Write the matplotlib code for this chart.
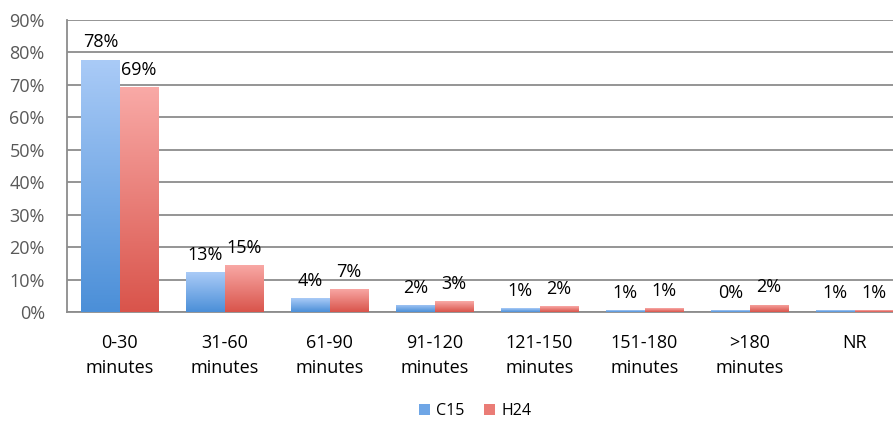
import matplotlib.pyplot as plt
import numpy as np
from matplotlib.colors import LinearSegmentedColormap
from matplotlib.patches import Patch

plt.rcParams['font.family'] = ['Open Sans', 'DejaVu Sans']

# donnees
categories = ['0-30\nminutes', '31-60\nminutes', '61-90\nminutes', '91-120\nminutes',
              '121-150\nminutes', '151-180\nminutes', '>180\nminutes', 'NR']
c15 = [77.8, 12.3, 4.3, 2.2, 1.2, 0.5, 0.5, 0.5]
h24 = [69.4, 14.5, 7.1, 3.3, 1.8, 1.1, 2.3, 0.5]
c15_labels = ['78%', '13%', '4%', '2%', '1%', '1%', '0%', '1%']
h24_labels = ['69%', '15%', '7%', '3%', '2%', '1%', '2%', '1%']
yticks = [0, 10, 20, 30, 40, 50, 60, 70, 80, 90]

blue_cmap = LinearSegmentedColormap.from_list('b', ['#4b8fd8', '#aacbf7'])
red_cmap = LinearSegmentedColormap.from_list('r', ['#d9544b', '#f9aaa7'])

fig = plt.figure(figsize=(8.93, 4.21), dpi=100)
ax = fig.add_axes([67/893, 109/421, 840/893, 292/421])

x = np.arange(len(categories))
w = 0.365
grad = np.linspace(0, 1, 256).reshape(-1, 1)


def gradient_bars(xs, vals, cmap):
    bars = ax.bar(xs, vals, w, color='none', edgecolor='none', zorder=3)
    for b in bars:
        x0, y0 = b.get_x(), b.get_y()
        x1, y1 = x0 + b.get_width(), y0 + b.get_height()
        im = ax.imshow(grad, cmap=cmap, origin='lower', aspect='auto',
                       extent=[x0, x1, y0, y1], zorder=3)
        im.set_clip_path(b)
    return bars


b1 = gradient_bars(x - w/2, c15, blue_cmap)
b2 = gradient_bars(x + w/2, h24, red_cmap)

for xs, vals, labs in [(x - w/2, c15, c15_labels), (x + w/2, h24, h24_labels)]:
    for xi, v, lab in zip(xs, vals, labs):
        ax.annotate(lab, (xi, v), xytext=(0, 6), textcoords='offset points',
                    ha='center', va='bottom', fontsize=13, color='black')

ax.set_xlim(-0.5, len(categories) - 0.5)
ax.set_ylim(0, 90)
ax.set_yticks(yticks)
ax.set_yticklabels([f'{t}%' for t in yticks], fontsize=13, color='#595959')
ax.set_xticks(x)
ax.set_xticklabels(categories, fontsize=13, linespacing=1.45)
ax.tick_params(axis='x', length=0, pad=16)
ax.tick_params(axis='y', length=0, pad=16)
ax.yaxis.grid(True, color='#8c8c8c', linewidth=1.3, zorder=0)
ax.set_axisbelow(True)
for s in ['top', 'right']:
    ax.spines[s].set_visible(False)
for s in ['left', 'bottom']:
    ax.spines[s].set_color('#8c8c8c')
    ax.spines[s].set_linewidth(1.3)

handles = [Patch(facecolor='#6fa6e6'), Patch(facecolor='#ea7c76')]
fig.legend(handles, ['C15', 'H24'], loc='center', bbox_to_anchor=(475/893, 1 - 411/421),
           ncol=2, frameon=False, fontsize=11.5, handlelength=0.7, handleheight=0.7,
           handletextpad=0.4, columnspacing=1.2)

fig.savefig('out.png', dpi=100)
